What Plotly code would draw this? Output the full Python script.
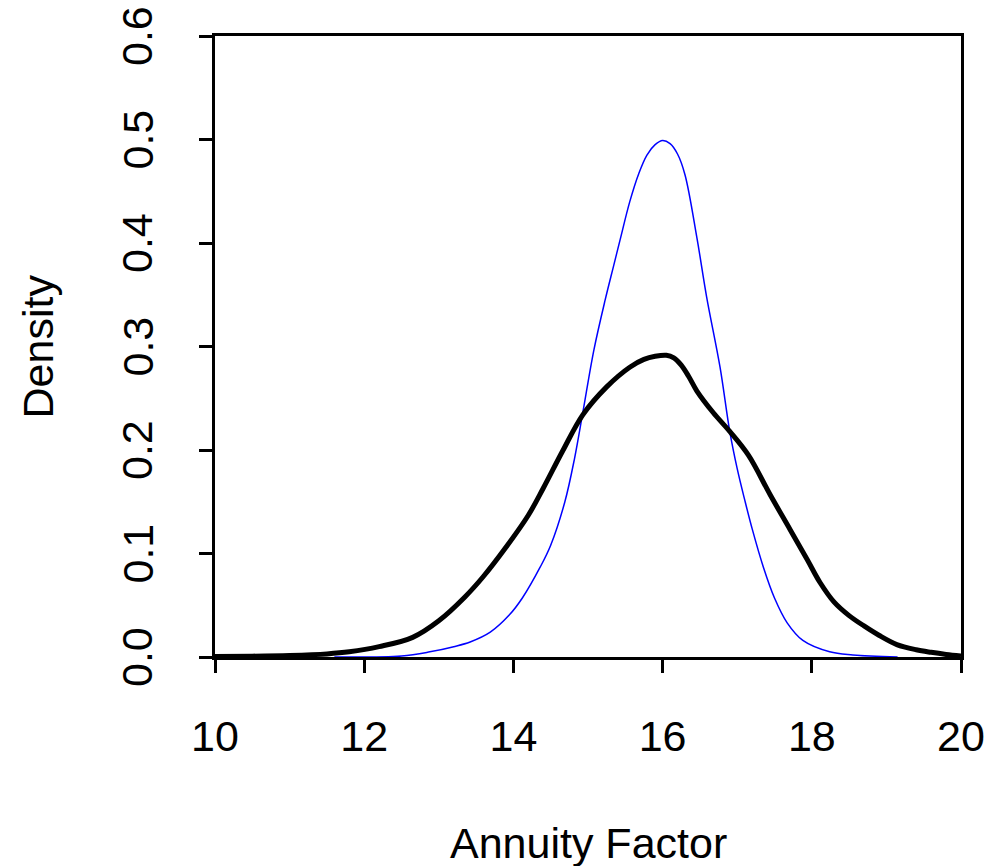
import plotly.graph_objects as go

# Kernel density of simulated annuity factors (black)
af_x = [10.0, 10.5, 11.0, 11.5, 11.8, 12.2, 12.65, 13.0, 13.35, 13.6, 13.9, 14.2,
        14.4, 14.66, 14.93, 15.25, 15.56, 15.75, 15.9, 16.05, 16.15, 16.25, 16.35,
        16.46, 16.68, 16.9, 17.15, 17.44, 17.71, 17.94, 18.11, 18.3, 18.5, 18.7,
        18.9, 19.14, 19.4, 19.6, 19.8, 20.0]
af_density = [0.0005, 0.0008, 0.0015, 0.003, 0.005, 0.010, 0.019, 0.035, 0.058,
              0.078, 0.106, 0.137, 0.163, 0.199, 0.234, 0.261, 0.280, 0.2875, 0.2905,
              0.2915, 0.289, 0.282, 0.271, 0.257, 0.236, 0.218, 0.195, 0.157, 0.123,
              0.094, 0.072, 0.053, 0.040, 0.030, 0.021, 0.012, 0.007, 0.0045, 0.0025,
              0.001]

# Reference density (blue)
ref_x = [11.6, 12.5, 12.88, 13.2, 13.42, 13.69, 13.95, 14.12, 14.36, 14.5, 14.69,
         14.82, 14.93, 15.08, 15.23, 15.34, 15.43, 15.56, 15.68, 15.79, 15.9, 16.0,
         16.1, 16.2, 16.3, 16.46, 16.59, 16.77, 16.9, 17.0, 17.1, 17.2, 17.35, 17.5,
         17.67, 17.88, 18.24, 18.55, 19.15]
ref_density = [0.0, 0.001, 0.005, 0.010, 0.0145, 0.024, 0.041, 0.057, 0.087, 0.108,
               0.150, 0.192, 0.236, 0.297, 0.345, 0.377, 0.403, 0.440, 0.467, 0.485,
               0.495, 0.499, 0.496, 0.486, 0.466, 0.405, 0.348, 0.280, 0.218, 0.182,
               0.152, 0.124, 0.087, 0.057, 0.033, 0.016, 0.005, 0.002, 0.0]

x_ticks = [10, 12, 14, 16, 18, 20]
y_ticks = [0.0, 0.1, 0.2, 0.3, 0.4, 0.5, 0.6]

FONT = "Liberation Sans, Arial, sans-serif"
FS = 43

fig = go.Figure()
fig.add_trace(go.Scatter(x=ref_x, y=ref_density, mode="lines",
                         line=dict(color="#0000ff", width=1.5, shape="spline", smoothing=1.0),
                         hoverinfo="skip", showlegend=False))
fig.add_trace(go.Scatter(x=af_x, y=af_density, mode="lines",
                         line=dict(color="black", width=5, shape="spline", smoothing=1.0),
                         hoverinfo="skip", showlegend=False))

axis_common = dict(showgrid=False, zeroline=False, showline=True, mirror=True,
                   linecolor="black", linewidth=2.5, ticks="outside", ticklen=13,
                   tickwidth=2.5, tickcolor="black",
                   tickfont=dict(family=FONT, size=FS, color="black"))

fig.update_xaxes(range=[10, 20], tickvals=x_ticks, ticktext=[str(v) for v in x_ticks],
                 ticklabelstandoff=27, **axis_common)
# y tick labels are written as rotated annotations next to each tick
fig.update_yaxes(range=[0, 0.6], tickvals=y_ticks, showticklabels=False, **axis_common)

annotations = [
    dict(text="Annuity Factor", xref="paper", yref="paper", x=0.5, y=-0.2995,
         xanchor="center", yanchor="middle", showarrow=False,
         font=dict(family=FONT, size=FS, color="black")),
    dict(text="Density", xref="paper", yref="paper", x=(37 - 215) / 746, y=0.5,
         xanchor="center", yanchor="middle", textangle=-90, showarrow=False,
         font=dict(family=FONT, size=FS, color="black")),
]
for v in y_ticks:
    annotations.append(dict(text=f"{v:.1f}", xref="paper", yref="y",
                            x=(137 - 215) / 746, y=v, xanchor="center", yanchor="middle",
                            textangle=-90, showarrow=False,
                            font=dict(family=FONT, size=FS, color="black")))

fig.update_layout(
    width=988, height=866,
    margin=dict(l=215, r=27, t=36, b=209, autoexpand=False),
    paper_bgcolor="white", plot_bgcolor="white",
    font=dict(family=FONT, size=FS, color="black"),
    annotations=annotations,
)

fig.write_html("out.html")
